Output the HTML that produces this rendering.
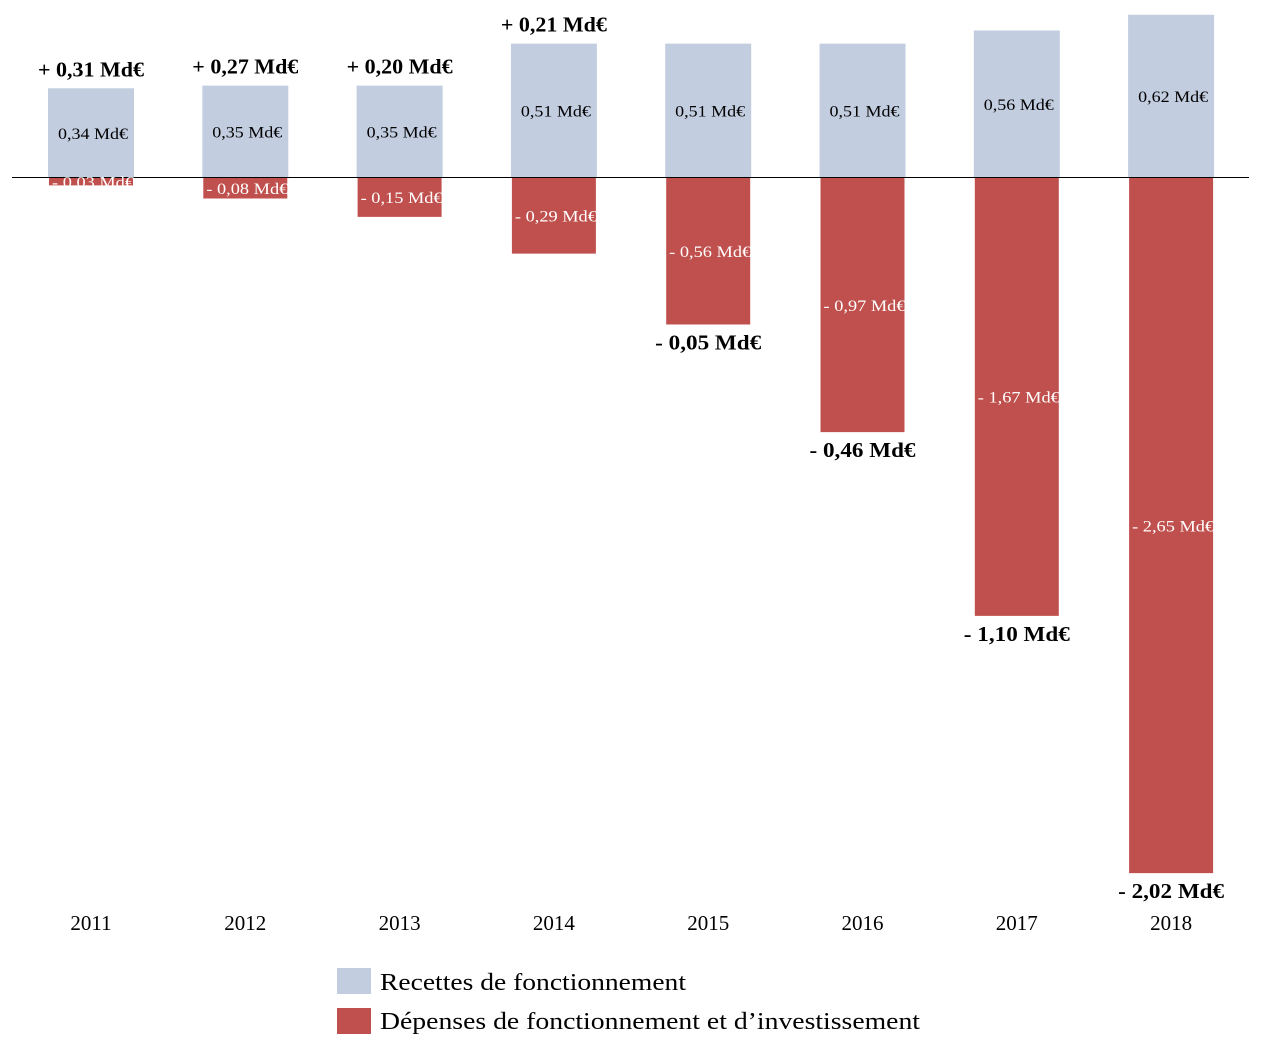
<!DOCTYPE html>
<html><head><meta charset="utf-8">
<style>
body{margin:0;background:#fff;}
svg text{font-family:"Liberation Serif",serif;}
</style></head>
<body>
<svg id="chart" width="1262" height="1051" viewBox="0 0 1262 1051" xmlns="http://www.w3.org/2000/svg">
<g id="bars"></g>
<line x1="12" y1="177.5" x2="1249" y2="177.5" stroke="#000" stroke-width="1"/>
<g id="labels"></g>
<g>
<rect x="337" y="968" width="34" height="26" fill="#c3cde0"/>
<text x="380" y="990" font-size="24" textLength="306" lengthAdjust="spacingAndGlyphs">Recettes de fonctionnement</text>
<rect x="337" y="1008" width="34" height="26" fill="#c0504d"/>
<text x="380" y="1029" font-size="24" textLength="540" lengthAdjust="spacingAndGlyphs">Dépenses de fonctionnement et d’investissement</text>
</g>
</svg>
<script>
const years = ['2011','2012','2013','2014','2015','2016','2017','2018'];
const recettes = [0.34,0.35,0.35,0.51,0.51,0.51,0.56,0.62];
const depenses = [0.03,0.08,0.15,0.29,0.56,0.97,1.67,2.65];
const soldes = [0.31,0.27,0.20,0.21,-0.05,-0.46,-1.10,-2.02];

const NS='http://www.w3.org/2000/svg';
const zeroY=177.5, scale=262.5, x0=91, step=154.3, bw=86;
const y = v => zeroY - v*scale;
const xc = i => x0 + i*step;
const fmt = v => v.toFixed(2).replace('.',',');
const bars=document.getElementById('bars'), labels=document.getElementById('labels');
function mk(tag,attrs,parent){const e=document.createElementNS(NS,tag);for(const k in attrs)e.setAttribute(k,attrs[k]);parent.appendChild(e);return e;}
years.forEach((yr,i)=>{
  const cx=xc(i);
  const rb=mk('rect',{x:cx-bw/2,y:y(recettes[i]),width:bw,height:zeroY-y(recettes[i]),fill:'#c3cde0'},bars);
  
  
  const db=mk('rect',{x:cx-bw/2+1,y:zeroY,width:bw-2,height:depenses[i]*scale,fill:'#c0504d'},bars);
  
  
  const t1=mk('text',{x:cx+2,y:(y(recettes[i])+zeroY)/2+6,'font-size':16,'text-anchor':'middle',fill:'#000',textLength:70,lengthAdjust:'spacingAndGlyphs'},labels);
  t1.textContent=fmt(recettes[i])+' Md€';
  
  
  const t2=mk('text',{x:cx+2,y:zeroY+depenses[i]*scale/2+6,'font-size':16,'text-anchor':'middle',fill:'#fff',textLength:82,lengthAdjust:'spacingAndGlyphs'},labels);
  t2.textContent='- '+fmt(depenses[i])+' Md€';
  
  
  const s=soldes[i];
  const ty = s>=0 ? y(recettes[i])-12 : zeroY+depenses[i]*scale+25;
  const t3=mk('text',{x:cx,y:ty,'font-size':21,'font-weight':'bold','text-anchor':'middle',textLength:106,lengthAdjust:'spacingAndGlyphs'},labels);
  t3.textContent=(s>=0?'+ ':'- ')+fmt(Math.abs(s))+' Md€';
  
  
  const t4=mk('text',{x:cx,y:930,'font-size':21,'text-anchor':'middle'},labels);
  t4.textContent=yr;
  
  
});
</script>
</body></html>
